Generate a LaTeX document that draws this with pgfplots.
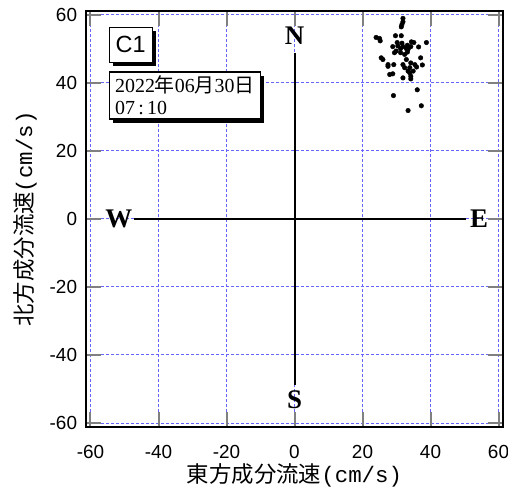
\documentclass[border=0pt]{standalone}
\usepackage{pgfplots}
\pgfplotsset{compat=1.18}
\usepackage{fontspec}
\setmainfont{Liberation Sans}
\newfontfamily\cjk{Noto Sans CJK JP}
\newfontfamily\serif{Liberation Serif}
\newfontfamily\mono{Liberation Mono}
\usetikzlibrary{shadows}
\definecolor{gridblue}{RGB}{100,100,255}
\begin{document}
\begin{tikzpicture}
\begin{axis}[
 scale only axis, width=416.5bp, height=416.5bp,
 xmin=-61.25, xmax=61.25, ymin=-61.25, ymax=61.25,
 xtick={-60,-40,...,60}, ytick={-60,-40,...,60},
 tick align=inside, major tick length=15bp,
 major tick style={line width=2bp},
 axis line style={line width=2bp},
 xmajorgrids, ymajorgrids,
 major grid style={draw=gridblue, dash pattern=on 3bp off 2bp, line width=1bp},
 ticklabel style={font=\fontsize{19}{19}\selectfont},
 /pgf/number format/assume math mode=true,
 xticklabel style={anchor=base, yshift=-31bp},
 yticklabel style={anchor=east, inner xsep=0pt, xshift=-9bp},
 xlabel={{\cjk 東方成分流速}{\mono (cm/s)}},
 ylabel={{\cjk 北方成分流速}{\mono (cm/s)}},
 label style={font=\fontsize{22.5}{22.5}\selectfont},
 x label style={at={(axis description cs:0.5,-0.115)}, anchor=center},
 y label style={at={(axis description cs:-0.147,0.5)}, anchor=center, rotate=0},
]
\draw[line width=2bp] (axis cs:-47.3,0) -- (axis cs:50.5,0);
\draw[line width=2bp] (axis cs:0,48.9) -- (axis cs:0,-48.9);
\node[font=\serif\bfseries\fontsize{27}{27}\selectfont] at (axis cs:-51.7,0) {W};
\node[font=\serif\bfseries\fontsize{27}{27}\selectfont] at (axis cs:54.3,0) {E};
\node[font=\serif\bfseries\fontsize{27}{27}\selectfont] at (axis cs:0,54) {N};
\node[font=\serif\bfseries\fontsize{27}{27}\selectfont] at (axis cs:0,-53.2) {S};
\addplot[only marks, mark=*, mark size=2.3bp, black] coordinates {
(31.9,59.0) (31.9,58.0) (31.6,57.2) (31.4,56.5)
(24.0,53.4) (25.0,53.1) (25.2,52.4) (29.7,53.9) (31.4,53.9)
(30.2,51.9) (31.6,51.7) (34.4,52.1) (35.1,51.9) (38.8,51.9)
(28.9,50.7) (30.4,50.9) (31.9,50.7) (33.2,51.1) (34.2,50.7) (36.5,50.6)
(32.9,50.1) (29.9,49.4) (31.2,48.9) (33.2,49.1) (29.4,48.9) (33.4,49.9)
(25.5,47.4) (26.0,46.9) (37.1,47.4) (32.9,46.9)
(27.5,45.4) (29.2,45.4) (31.9,45.4) (34.2,45.9) (35.9,44.7) (37.6,45.3)
(32.4,44.5) (33.9,44.5) (33.4,43.5) (34.9,43.5) (28.0,42.5) (28.9,42.7)
(31.9,41.5) (34.2,42.0) (34.2,41.2) (36.1,38.0) (29.1,36.3) (37.3,33.3)
(33.4,31.9) (27.5,44.9) (35.4,45.4) (31.2,50.1) (32.4,48.4) (33.9,43.0)
};
\node[draw, line width=1.2bp, fill=white, drop shadow={shadow xshift=3.5bp, shadow yshift=-3.5bp, opacity=1, fill=black}, anchor=north west, minimum width=43bp, minimum height=35bp, font=\fontsize{23.5}{23.5}\selectfont] at (axis cs:-54.7,56.6) {C1};
\node[draw, line width=1.2bp, fill=white, drop shadow={shadow xshift=3.5bp, shadow yshift=-3.5bp, opacity=1, fill=black}, anchor=north west, align=left, inner xsep=6bp, inner ysep=4bp, font=\serif\fontsize{20}{22}\selectfont] at (axis cs:-54.7,43.4) {2022{\cjk 年}06{\cjk 月}30{\cjk 日}\\07\,:\,10};
\end{axis}
\pgfresetboundingbox
\path[use as bounding box] ([shift={(-86.25bp,-62.75bp)}]current axis.south west) rectangle ([shift={(421.75bp,427.25bp)}]current axis.south west);
\end{tikzpicture}
\end{document}
